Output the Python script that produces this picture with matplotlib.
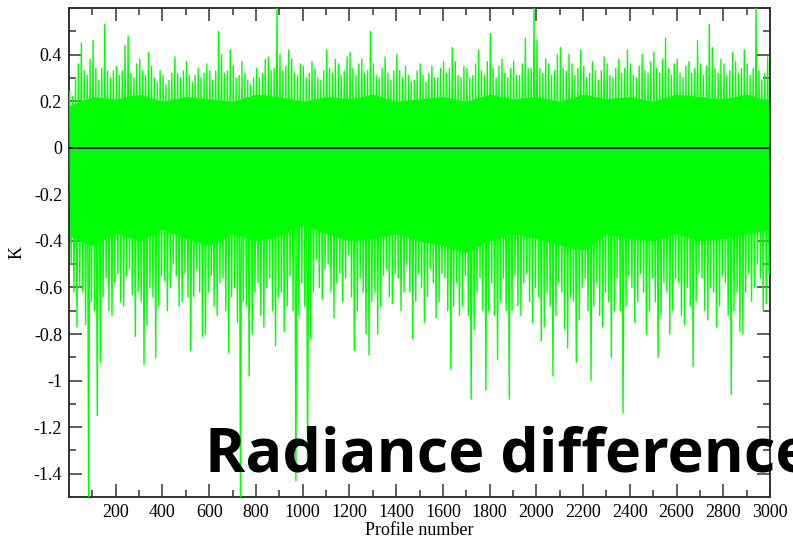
import matplotlib
matplotlib.use('Agg')
import matplotlib.pyplot as plt
from matplotlib.ticker import MultipleLocator, FixedLocator, FuncFormatter
import numpy as np

plt.rcParams['font.family'] = ['Liberation Serif', 'DejaVu Serif']
plt.rcParams['axes.unicode_minus'] = False

# Radiance difference per profile per block of
# 25 profiles (120 blocks, profiles 1..3000): largest and second largest
# excursion up and down in each block
bin_size = 25
bin_max = [0.24, 0.36, 0.45, 0.38, 0.46, 0.34, 0.53, 0.33, 0.35, 0.44, 0.48, 0.36, 0.38, 0.41, 0.35, 0.33, 0.31,
           0.32, 0.39, 0.33, 0.37, 0.31, 0.34, 0.36, 0.33, 0.50, 0.40, 0.42, 0.35, 0.37, 0.32, 0.30, 0.34, 0.38, 0.39,
           0.62, 0.40, 0.42, 0.38, 0.36, 0.35, 0.37, 0.34, 0.33, 0.42, 0.38, 0.36, 0.39, 0.41, 0.36, 0.38,
           0.50, 0.36, 0.34, 0.39, 0.33, 0.40, 0.35, 0.31, 0.33, 0.36, 0.32, 0.35, 0.34, 0.37, 0.43, 0.37, 0.35,
           0.34, 0.36, 0.42, 0.37, 0.49, 0.35, 0.38, 0.34, 0.37, 0.36, 0.47, 0.62, 0.46, 0.38, 0.36, 0.40, 0.43,
           0.40, 0.36, 0.42, 0.35, 0.37, 0.33, 0.39, 0.36, 0.34, 0.38, 0.42, 0.36, 0.35, 0.40, 0.37, 0.41, 0.38,
           0.47, 0.36, 0.38, 0.35, 0.37, 0.46, 0.36, 0.53, 0.43, 0.38, 0.36, 0.41, 0.37, 0.42, 0.36, 0.62, 0.33, 0.39]
bin_min = [-0.62, -0.77, -0.76, -1.52, -1.15, -0.92, -0.70, -0.72, -0.66, -0.68, -0.63, -0.81, -0.93, -0.76, -0.90, -0.68, -0.70,
           -0.60, -0.68, -0.66, -0.87, -0.64, -0.81, -0.80, -0.68, -0.72, -0.70, -0.88, -0.75, -1.52, -0.98, -0.80, -0.72, -0.77, -0.70,
           -0.85, -0.79, -0.68, -1.43, -0.72, -1.38, -0.82, -0.60, -0.65, -0.62, -0.73, -0.66, -0.56, -0.87, -0.70, -0.80,
           -0.89, -0.80, -0.68, -0.64, -0.67, -0.70, -0.62, -0.82, -0.66, -0.75, -0.64, -0.73, -0.66, -0.70, -0.95, -0.72, -0.68,
           -1.08, -0.78, -0.70, -1.04, -0.72, -0.91, -0.70, -1.08, -0.68, -0.72, -0.66, -0.75, -0.83, -0.77, -0.98, -0.72, -0.78,
           -0.86, -0.92, -0.74, -0.70, -1.00, -0.72, -0.77, -0.90, -0.70, -1.14, -0.68, -0.75, -0.66, -0.80, -0.70, -0.90, -0.72,
           -0.80, -0.70, -0.72, -0.76, -0.94, -0.66, -0.70, -0.74, -0.77, -0.68, -0.72, -1.06, -0.79, -0.80, -0.66, -0.60, -0.70, -0.67]
bin_max2 = [0.22, 0.30, 0.33, 0.31, 0.34, 0.29, 0.33, 0.30, 0.31, 0.33, 0.32, 0.30, 0.33, 0.31, 0.30, 0.28, 0.27,
            0.29, 0.32, 0.30, 0.31, 0.28, 0.30, 0.32, 0.29, 0.33, 0.32, 0.33, 0.30, 0.31, 0.29, 0.27, 0.30, 0.32, 0.33,
            0.34, 0.33, 0.35, 0.32, 0.31, 0.30, 0.32, 0.30, 0.29, 0.34, 0.32, 0.31, 0.33, 0.34, 0.31, 0.32,
            0.33, 0.31, 0.30, 0.32, 0.29, 0.33, 0.30, 0.28, 0.29, 0.31, 0.28, 0.30, 0.30, 0.32, 0.34, 0.31, 0.30,
            0.30, 0.31, 0.33, 0.31, 0.34, 0.30, 0.32, 0.30, 0.31, 0.31, 0.34, 0.34, 0.34, 0.32, 0.31, 0.33, 0.34,
            0.33, 0.31, 0.34, 0.30, 0.32, 0.29, 0.33, 0.31, 0.30, 0.32, 0.34, 0.31, 0.30, 0.33, 0.32, 0.34, 0.32,
            0.34, 0.31, 0.32, 0.30, 0.32, 0.34, 0.31, 0.35, 0.34, 0.32, 0.31, 0.33, 0.32, 0.34, 0.31, 0.34, 0.29, 0.32]
bin_min2 = [-0.50, -0.60, -0.62, -0.66, -0.70, -0.64, -0.56, -0.58, -0.54, -0.55, -0.52, -0.62, -0.66, -0.60, -0.64, -0.55, -0.57,
            -0.50, -0.55, -0.54, -0.64, -0.52, -0.62, -0.62, -0.55, -0.58, -0.56, -0.64, -0.60, -0.66, -0.68, -0.62, -0.58, -0.60, -0.56,
            -0.64, -0.62, -0.55, -0.70, -0.58, -0.68, -0.62, -0.48, -0.52, -0.50, -0.58, -0.54, -0.46, -0.64, -0.56, -0.62,
            -0.66, -0.62, -0.55, -0.52, -0.54, -0.56, -0.50, -0.62, -0.54, -0.60, -0.52, -0.58, -0.54, -0.56, -0.68, -0.58, -0.55,
            -0.72, -0.62, -0.56, -0.70, -0.58, -0.66, -0.56, -0.70, -0.55, -0.58, -0.54, -0.60, -0.64, -0.62, -0.68, -0.58, -0.62,
            -0.64, -0.66, -0.60, -0.56, -0.68, -0.58, -0.62, -0.66, -0.56, -0.70, -0.55, -0.60, -0.54, -0.62, -0.56, -0.66, -0.58,
            -0.62, -0.56, -0.58, -0.60, -0.68, -0.54, -0.56, -0.60, -0.62, -0.55, -0.58, -0.70, -0.62, -0.62, -0.54, -0.50, -0.56, -0.54]

# solid core of the band, every 100 profiles
core_profiles = list(range(0, 3001, 100))
core_top = [0.18, 0.22, 0.21, 0.23, 0.20, 0.22, 0.21, 0.20, 0.23, 0.22, 0.20, 0.22, 0.21, 0.23, 0.20, 0.21,
            0.22, 0.20, 0.23, 0.21, 0.22, 0.20, 0.23, 0.21, 0.22, 0.20, 0.23, 0.22, 0.21, 0.23, 0.20]
core_bot = [-0.38, -0.42, -0.37, -0.40, -0.35, -0.39, -0.42, -0.37, -0.40, -0.38, -0.33, -0.37, -0.40, -0.39, -0.37, -0.40,
            -0.42, -0.45, -0.40, -0.37, -0.39, -0.42, -0.44, -0.37, -0.39, -0.40, -0.37, -0.40, -0.39, -0.37, -0.35]

x_ticks = list(range(200, 3001, 200))
y_ticks = [-1.4, -1.2, -1.0, -0.8, -0.6, -0.4, -0.2, 0.0, 0.2, 0.4]

# trace through the four excursions of each block
xs, ys = [], []
for k in range(len(bin_max)):
    x0 = k * bin_size
    xs += [x0 + 3, x0 + 9, x0 + 15, x0 + 21]
    if k % 2 == 0:
        ys += [bin_max[k], bin_min2[k], bin_max2[k], bin_min[k]]
    else:
        ys += [bin_max2[k], bin_min[k], bin_max[k], bin_min2[k]]

fig = plt.figure(figsize=(7.93, 5.42), dpi=100)
ax = fig.add_axes([69 / 793, 45 / 542, 701 / 793, 489 / 542])

green = '#00ff00'
ax.fill_between(core_profiles, core_bot, core_top, color=green, lw=0, zorder=2)
ax.plot(xs, ys, color=green, lw=1.0, zorder=3)
ax.axhline(0, color='black', lw=1.4, zorder=4)

ax.set_xlim(0, 3000)
ax.set_ylim(-1.5, 0.6)
ax.xaxis.set_major_locator(FixedLocator(x_ticks))
ax.xaxis.set_minor_locator(MultipleLocator(100))
ax.yaxis.set_major_locator(FixedLocator(y_ticks))
ax.yaxis.set_minor_locator(MultipleLocator(0.1))
ax.yaxis.set_major_formatter(FuncFormatter(lambda v, p: '%g' % round(v, 2)))
ax.tick_params(which='both', direction='in', top=True, right=True,
               width=1.1, color='#333333', labelsize=13, pad=5)
ax.tick_params(which='major', length=9.5)
ax.tick_params(which='minor', length=5)
for s in ax.spines.values():
    s.set_linewidth(1.4)
    s.set_color('#333333')

ax.set_xlabel('Profile number', fontsize=13, labelpad=1)
ax.set_ylabel('K', fontsize=13, labelpad=6)

fig.text(205 / 793, 71 / 542, 'Radiance difference', family='Open Sans',
         fontweight='bold', fontsize=44, color='black', ha='left',
         va='baseline', zorder=10)

fig.savefig('out.png', dpi=100)
